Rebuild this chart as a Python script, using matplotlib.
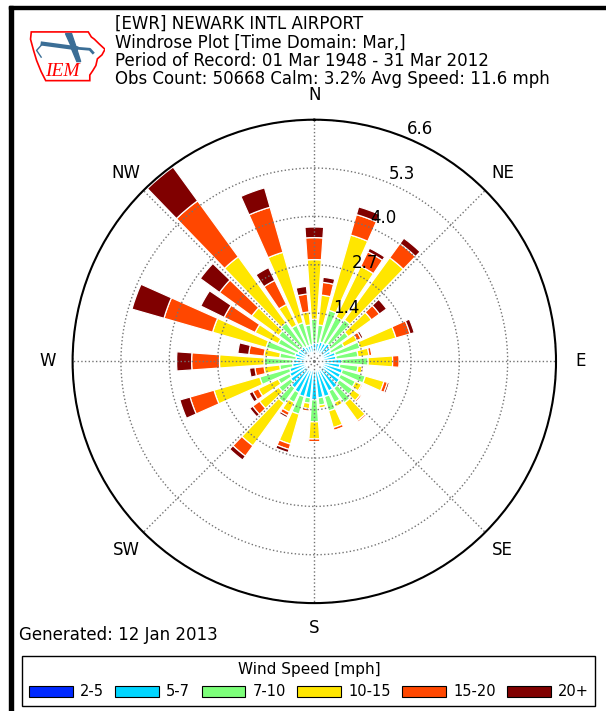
import numpy as np
import matplotlib
matplotlib.use("Agg")
import matplotlib.pyplot as plt
from matplotlib.patches import Rectangle, Polygon

# Wind directions (deg from north, clockwise), 10 degree sectors
directions = np.arange(0, 360, 10)

speed_bins = ["2-5", "5-7", "7-10", "10-15", "15-20", "20+"]

# frequency [%] of each speed bin for each direction
freq_2_5 = [0.20] * 36
freq_5_7 = [0.30, 0.30, 0.35, 0.35, 0.40, 0.35, 0.30, 0.40, 0.40, 0.55, 0.50, 0.60,
            0.60, 0.65, 0.70, 0.70, 0.80, 0.80, 0.85, 0.80, 0.80, 0.75, 0.70, 0.60,
            0.55, 0.50, 0.40, 0.38, 0.30, 0.35, 0.30, 0.30, 0.30, 0.25, 0.25, 0.25]
freq_7_10 = [0.65, 0.50, 0.90, 0.80, 0.80, 0.60, 0.40, 0.70, 0.60, 0.72, 0.50, 0.65,
             0.45, 0.45, 0.50, 0.35, 0.41, 0.20, 0.60, 0.15, 0.50, 0.30, 0.50, 0.40,
             0.35, 0.85, 0.35, 0.79, 0.45, 0.82, 0.60, 0.70, 0.80, 0.65, 0.65, 0.55]
freq_10_15 = [1.63, 0.82, 2.14, 1.54, 2.10, 0.78, 0.40, 1.02, 0.30, 0.67, 0.12, 0.53,
              0.19, 0.25, 0.60, 0.13, 0.47, 0.08, 0.47, 0.15, 0.85, 0.30, 1.45, 0.65,
              0.60, 1.30, 0.43, 1.22, 0.43, 1.52, 0.70, 0.91, 2.23, 0.63, 2.00, 0.36]
freq_15_20 = [0.60, 0.35, 0.58, 0.44, 0.48, 0.27, 0.12, 0.40, 0.08, 0.18, 0.04, 0.10,
              0.04, 0.05, 0.05, 0.03, 0.08, 0.03, 0.08, 0.07, 0.15, 0.10, 0.35, 0.23,
              0.17, 0.68, 0.25, 0.76, 0.42, 1.38, 0.94, 1.09, 1.89, 0.73, 1.28, 0.49]
freq_20p = [0.29, 0.14, 0.22, 0.11, 0.18, 0.24, 0.06, 0.12, 0.02, 0.01, 0.01, 0.05,
            0.01, 0.01, 0.02, 0.01, 0.02, 0.01, 0.01, 0.02, 0.09, 0.06, 0.13, 0.10,
            0.11, 0.29, 0.15, 0.41, 0.30, 0.91, 0.71, 0.65, 1.14, 0.39, 0.55, 0.21]

ring_values = np.linspace(0, 6.6, 6)[1:]
ring_labels = ["1.4", "2.7", "4.0", "5.3", "6.6"]
compass = ["N", "NE", "E", "SE", "S", "SW", "W", "NW"]

header = ("[EWR] NEWARK INTL AIRPORT\n"
          "Windrose Plot [Time Domain: Mar,]\n"
          "Period of Record: 01 Mar 1948 - 31 Mar 2012\n"
          "Obs Count: 50668 Calm: 3.2% Avg Speed: 11.6 mph")

W, H = 606, 711
fig = plt.figure(figsize=(W / 100, H / 100), dpi=100)

# same colours as the old windrose code: jet split in 7, first dropped
colors = plt.get_cmap("jet")(np.linspace(0, 1, 7))[1:]

ax = fig.add_axes([72.6 / W, 107.9 / H, 483.4 / W, 483.4 / H], projection="polar")
ax.set_theta_zero_location("N")
ax.set_theta_direction(-1)

theta = np.deg2rad(directions)
bottom = np.zeros(len(directions))
for vals, c in zip([freq_2_5, freq_5_7, freq_7_10, freq_10_15, freq_15_20, freq_20p], colors):
    ax.bar(theta, vals, width=np.deg2rad(8), bottom=bottom, color=c,
           edgecolor="white", linewidth=0.9)
    bottom = bottom + np.array(vals)

ax.set_ylim(0, 6.6)
ax.set_rgrids(ring_values, labels=[""] * len(ring_values))
ax.set_thetagrids(np.arange(0, 360, 45), labels=[""] * 8)
ax.grid(True, color="0.45", linestyle=":", linewidth=1)
ax.spines["polar"].set_linewidth(1.5)

for r, lab in zip(ring_values, ring_labels):
    ax.text(np.deg2rad(22.5), r, lab, ha="left", va="bottom", fontsize=12)

for ang, lab in zip(np.arange(0, 360, 45), compass):
    ax.text(np.deg2rad(ang), 7.27, lab, ha="center", va="center", fontsize=12,
            clip_on=False)

fig.text(114.8 / W, 1 - 15 / H, header, ha="left", va="top", fontsize=12,
         linespacing=1.02)
fig.text(19 / W, 1 - 635 / H, "Generated: 12 Jan 2013", ha="left", va="center",
         fontsize=12)

handles = [Rectangle((0, 0), 1, 1, facecolor=c, edgecolor="black", linewidth=0.8)
           for c in colors]
leg = fig.legend(handles, speed_bins, loc="lower left",
                 bbox_to_anchor=(22.4 / W, 5 / H, 573 / W, 51 / H), mode="expand",
                 ncol=6, title="Wind Speed [mph]", fontsize=10.5, title_fontsize=11,
                 fancybox=False, edgecolor="black", framealpha=1,
                 handlelength=3.0, handleheight=0.8, handletextpad=0.5,
                 borderaxespad=0, borderpad=0.45)
leg.get_frame().set_linewidth(1)

# IEM logo (rough)
lax = fig.add_axes([29 / W, 1 - 84 / H, 76 / W, 56 / H])
lax.set_xlim(0, 1)
lax.set_ylim(0, 1)
lax.axis("off")
iowa = [(0.03, 0.93), (0.78, 0.93), (0.82, 0.84), (0.86, 0.80), (0.92, 0.72),
        (1.00, 0.62), (0.96, 0.52), (0.90, 0.45), (0.88, 0.33), (0.84, 0.24),
        (0.80, 0.16), (0.80, 0.06), (0.22, 0.06), (0.16, 0.22), (0.10, 0.42),
        (0.06, 0.60), (0.02, 0.80)]
lax.add_patch(Polygon(iowa, closed=True, fill=False, edgecolor="red", linewidth=1.2))
lax.plot([0.18, 0.62], [0.72, 0.64], color="#3b6e96", linewidth=3)
lax.add_patch(Polygon([(0.48, 0.90), (0.56, 0.90), (0.62, 0.66), (0.56, 0.66)],
                      color="#3b6e96"))
lax.add_patch(Polygon([(0.55, 0.66), (0.62, 0.66), (0.68, 0.40), (0.63, 0.40)],
                      color="#3b6e96"))
lax.plot([0.62, 0.80, 0.84], [0.64, 0.62, 0.56], color="#3b6e96", linewidth=2)
lax.plot([0.18, 0.10, 0.16], [0.72, 0.60, 0.48], color="#3b6e96", linewidth=1)
lax.text(0.44, 0.22, "IEM", color="red", fontsize=14, fontstyle="italic",
         family="Liberation Serif", ha="center", va="center")

# black frame on top and left edge of the screenshot
fig.add_artist(Rectangle((9 / W, 0), 4 / W, 1 - 6 / H, transform=fig.transFigure,
                         color="black"))
fig.add_artist(Rectangle((9 / W, 1 - 9 / H), 1 - 9 / W, 3 / H, transform=fig.transFigure,
                         color="black"))

fig.savefig("out.png", dpi=100)
